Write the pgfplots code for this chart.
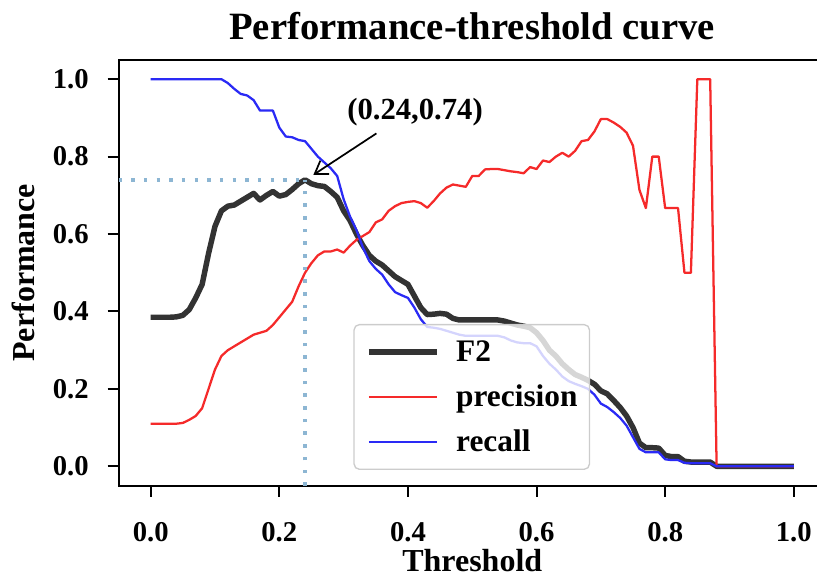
\documentclass[border=0pt]{standalone}
\usepackage{fontspec}
\setmainfont{Liberation Serif}
\usepackage{pgfplots}
\pgfplotsset{compat=1.18}
\usepackage{pgfplotstable}
\usetikzlibrary{arrows.meta}

\definecolor{fcol}{HTML}{333333}
\definecolor{pcol}{HTML}{F52A2A}
\definecolor{rcol}{HTML}{2A2AF5}
\definecolor{dcol}{HTML}{8DB6D3}
\definecolor{lgray}{HTML}{CCCCCC}

\pgfplotstableread{
t f2 p r
0.00 0.385 0.110 1.000
0.01 0.385 0.110 1.000
0.02 0.385 0.110 1.000
0.03 0.385 0.110 1.000
0.04 0.386 0.110 1.000
0.05 0.390 0.112 1.000
0.06 0.405 0.120 1.000
0.07 0.435 0.130 1.000
0.08 0.470 0.150 1.000
0.09 0.550 0.200 1.000
0.10 0.620 0.250 1.000
0.11 0.660 0.285 1.000
0.12 0.672 0.300 0.990
0.13 0.675 0.310 0.975
0.14 0.685 0.320 0.962
0.15 0.695 0.330 0.958
0.16 0.705 0.340 0.946
0.17 0.688 0.345 0.919
0.18 0.700 0.350 0.919
0.19 0.710 0.365 0.919
0.20 0.698 0.385 0.875
0.21 0.702 0.405 0.852
0.22 0.715 0.425 0.850
0.23 0.730 0.465 0.843
0.24 0.740 0.500 0.840
0.25 0.730 0.525 0.820
0.26 0.725 0.545 0.800
0.27 0.723 0.555 0.785
0.28 0.710 0.555 0.770
0.29 0.695 0.560 0.750
0.30 0.660 0.552 0.690
0.31 0.635 0.570 0.645
0.32 0.600 0.585 0.610
0.33 0.570 0.595 0.565
0.34 0.545 0.605 0.530
0.35 0.530 0.630 0.510
0.36 0.520 0.638 0.495
0.37 0.505 0.660 0.470
0.38 0.490 0.672 0.450
0.39 0.480 0.680 0.442
0.40 0.470 0.683 0.435
0.41 0.440 0.685 0.410
0.42 0.410 0.680 0.380
0.43 0.392 0.668 0.360
0.44 0.393 0.685 0.358
0.45 0.395 0.705 0.355
0.46 0.393 0.720 0.350
0.47 0.382 0.728 0.345
0.48 0.378 0.725 0.340
0.49 0.378 0.722 0.337
0.50 0.378 0.750 0.337
0.51 0.378 0.750 0.337
0.52 0.378 0.767 0.337
0.53 0.378 0.768 0.337
0.54 0.378 0.768 0.337
0.55 0.375 0.765 0.333
0.56 0.370 0.762 0.325
0.57 0.365 0.760 0.320
0.58 0.362 0.757 0.318
0.59 0.358 0.773 0.318
0.60 0.345 0.768 0.310
0.61 0.325 0.790 0.285
0.62 0.300 0.786 0.265
0.63 0.285 0.800 0.250
0.64 0.265 0.810 0.232
0.65 0.250 0.800 0.220
0.66 0.237 0.815 0.213
0.67 0.230 0.840 0.207
0.68 0.222 0.843 0.200
0.69 0.212 0.865 0.185
0.70 0.195 0.897 0.162
0.71 0.187 0.897 0.153
0.72 0.170 0.888 0.140
0.73 0.152 0.877 0.125
0.74 0.130 0.862 0.105
0.75 0.100 0.828 0.075
0.76 0.060 0.714 0.045
0.77 0.048 0.667 0.036
0.78 0.048 0.800 0.036
0.79 0.047 0.800 0.036
0.80 0.028 0.667 0.018
0.81 0.025 0.667 0.016
0.82 0.025 0.667 0.016
0.83 0.013 0.500 0.009
0.84 0.011 0.500 0.008
0.85 0.011 1.000 0.008
0.86 0.011 1.000 0.008
0.87 0.011 1.000 0.008
0.88 0.000 0.000 0.000
0.89 0.000 0.000 0.000
0.90 0.000 0.000 0.000
0.91 0.000 0.000 0.000
0.92 0.000 0.000 0.000
0.93 0.000 0.000 0.000
0.94 0.000 0.000 0.000
0.95 0.000 0.000 0.000
0.96 0.000 0.000 0.000
0.97 0.000 0.000 0.000
0.98 0.000 0.000 0.000
0.99 0.000 0.000 0.000
1.00 0.000 0.000 0.000
}\data

\begin{document}
\begin{tikzpicture}
\begin{axis}[
  scale only axis, width=530.5pt, height=319.3pt,
  xmin=-0.05, xmax=1.05, ymin=-0.05, ymax=1.05,
  xtick={0,0.2,0.4,0.6,0.8,1}, ytick={0,0.2,0.4,0.6,0.8,1},
  tick align=outside, major tick length=8.25pt, tick pos=left,
  every tick/.style={line width=1.5pt, black},
  axis line style={line width=1.5pt, black},
  /pgf/number format/assume math mode=true,
  /pgf/number format/fixed, /pgf/number format/fixed zerofill, /pgf/number format/precision=1,
  ticklabel style={font=\bfseries\fontsize{21.5}{21.5}\selectfont},
  yticklabel style={anchor=east, inner sep=0pt, xshift=-13.9pt},
  xticklabel style={anchor=base, inner sep=0pt, yshift=-33.3pt},
  every axis title shift=0pt,
  title={Performance-threshold curve},
  title style={font=\bfseries\fontsize{29}{29}\selectfont, at={(axis description cs:0.5,1)}, anchor=base, yshift=15pt},
  xlabel={Threshold}, ylabel={Performance},
  label style={font=\bfseries\fontsize{24}{24}\selectfont},
  xlabel style={at={(axis description cs:0.5,-0.2005)}, anchor=base},
  ylabel style={at={(axis description cs:-0.1181,0.5)}, anchor=base},
  legend cell align=left,
  legend style={at={(axis description cs:0.332,0.0368)}, anchor=south west,
    draw=lgray, line width=1pt, rounded corners=4pt, fill=white, fill opacity=0.8,
    text opacity=1, draw opacity=1, inner xsep=9pt, inner ysep=10pt, row sep=12.75pt,
    font=\bfseries\fontsize{23.5}{23.5}\selectfont,
    nodes={inner sep=0pt, text height=18pt, text depth=3pt}},
  legend image code/.code={\draw[#1] (0pt,0pt) -- (51pt,0pt); \path (63.5pt,0pt);},
]
\addplot[fcol, line width=4.1pt, line join=round] table[x=t,y=f2]{\data};
\addlegendentry{F2}
\addplot[pcol, line width=1.7pt, line join=round] table[x=t,y=p]{\data};
\addlegendentry{precision}
\addplot[rcol, line width=1.7pt, line join=round] table[x=t,y=r]{\data};
\addlegendentry{recall}
\addplot[dcol, line width=2.6pt, dash pattern=on 2.6pt off 6.9pt, forget plot] coordinates {(-0.05,0.74) (0.24,0.74)};
\addplot[dcol, line width=2.6pt, dash pattern=on 2.6pt off 6.9pt, forget plot] coordinates {(0.24,-0.05) (0.24,0.74)};
\draw[line width=1.3pt, -{Straight Barb[length=9pt,width=12pt,line width=1.3pt]}] (axis cs:0.351,0.86) -- (axis cs:0.253,0.753);
\node[font=\bfseries\fontsize{23}{23}\selectfont, anchor=base, inner sep=0pt] at (axis cs:0.411,0.895) {(0.24,0.74)};
\end{axis}
\pgfresetboundingbox
\useasboundingbox (-88.9pt,-68.5pt) rectangle (523.8pt,364.2pt);
\end{tikzpicture}
\end{document}
